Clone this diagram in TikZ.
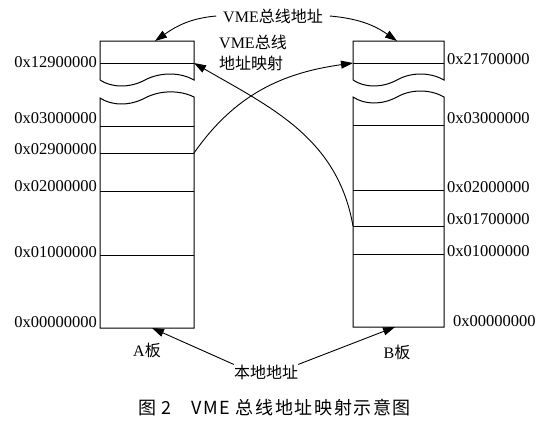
\documentclass[tikz,border=0pt]{standalone}
\usepackage{fontspec}
\setmainfont{Liberation Serif}
\newfontfamily\cjk{Noto Sans CJK SC}
\newfontfamily\cjkcap[LetterSpace=9]{Noto Sans CJK SC}
\usetikzlibrary{arrows.meta}
\begin{document}
\begin{tikzpicture}[x=1pt,y=-1pt,
  box/.style={line width=1pt},
  sep/.style={line width=1pt},
  hexl/.style={font=\fontsize{16.5}{18}\selectfont, anchor=east, inner sep=0pt},
  hexr/.style={font=\fontsize{16.5}{18}\selectfont, anchor=west, inner sep=0pt},
  arr/.style={line width=0.9pt, -{Triangle[length=12pt,width=8pt]}},
  lbl/.style={font=\fontsize{16}{21}\selectfont, inner sep=0pt}]
\useasboundingbox (0,0) rectangle (549,426);

% Board A
\draw[box] (100,80) -- (100,41) -- (194,41) -- (194,80)
  .. controls (180,72) and (160,72) .. (145,80)
  .. controls (130,88) and (112,88) .. (100,80);
\draw[box] (194,97) .. controls (180,90) and (160,90) .. (145,98)
  .. controls (130,106) and (112,106) .. (100,98)
  -- (100,328) -- (194,328) -- cycle;
\draw[sep] (100,63) -- (194,63);
\draw[sep] (100,126) -- (194,126);
\draw[sep] (100,153) -- (194,153);
\draw[sep] (100,191) -- (194,191);
\draw[sep] (100,255) -- (194,255);

% Board B
\draw[box] (353,80) -- (353,41) -- (444,41) -- (444,80)
  .. controls (430,72) and (411,72) .. (397,80)
  .. controls (382,88) and (365,88) .. (353,80);
\draw[box] (444,97) .. controls (430,89) and (411,89) .. (397,97)
  .. controls (382,105) and (365,105) .. (353,97)
  -- (353,327) -- (444,327) -- cycle;
\draw[sep] (353,63) -- (444,63);
\draw[sep] (353,125) -- (444,125);
\draw[sep] (353,190) -- (444,190);
\draw[sep] (353,226) -- (444,226);
\draw[sep] (353,254) -- (444,254);

% coordinates
\coordinate (Atop) at (155,41);
\coordinate (Btop) at (397,41);
\coordinate (A129) at (194,63);
\coordinate (A029) at (194,153);
\coordinate (B217) at (353,63);
\coordinate (B017) at (353,226);
\coordinate (Abot) at (152,328);
\coordinate (Bbot) at (395,327);

% hex labels
\node[hexl] (la1) at (97,62) {0x12900000};
\node[hexl] (la2) at (97,118) {0x03000000};
\node[hexl] (la3) at (97,149) {0x02900000};
\node[hexl] (la4) at (97,186) {0x02000000};
\node[hexl] (la5) at (97,252) {0x01000000};
\node[hexl] (la6) at (97,322) {0x00000000};

\node[hexr] (lb1) at (447,59) {0x21700000};
\node[hexr] (lb2) at (447,118) {0x03000000};
\node[hexr] (lb3) at (447,187) {0x02000000};
\node[hexr] (lb4) at (447,219) {0x01700000};
\node[hexr] (lb5) at (447,251) {0x01000000};
\node[hexr] (lb6) at (453,321) {0x00000000};

% texts
\node[lbl, outer xsep=7pt] (vmeaddr) at (273,16) {VME{\cjk 总线地址}};
\node[lbl, align=left, anchor=north west] (vmemap) at (219,35) {VME{\cjk 总线}\\{\cjk 地址映射}};
\node[lbl] (local) at (266,372) {\cjk 本地地址};
\node[lbl] (alab) at (147,350) {A{\cjk 板}};
\node[lbl] (blab) at (397,352) {B{\cjk 板}};
\node[lbl, font=\cjkcap\fontsize{18}{20}\selectfont] (caption) at (274.5,408) {图\hspace{5pt}2\hspace{20pt}VME\hspace{6pt}总线地址映射示意图};

% arrows
\draw[arr] (vmeaddr.west) to[out=185,in=35] (Atop);
\draw[arr] (vmeaddr.east) to[out=-5,in=145] (Btop);
\draw[arr] (A029) to[out=55,in=188] (B217);
\draw[arr] (B017) to[out=100,in=-30] (A129);
\draw[arr] (local.north west) -- (Abot);
\draw[arr] (local.north east) -- (Bbot);
\end{tikzpicture}
\end{document}
